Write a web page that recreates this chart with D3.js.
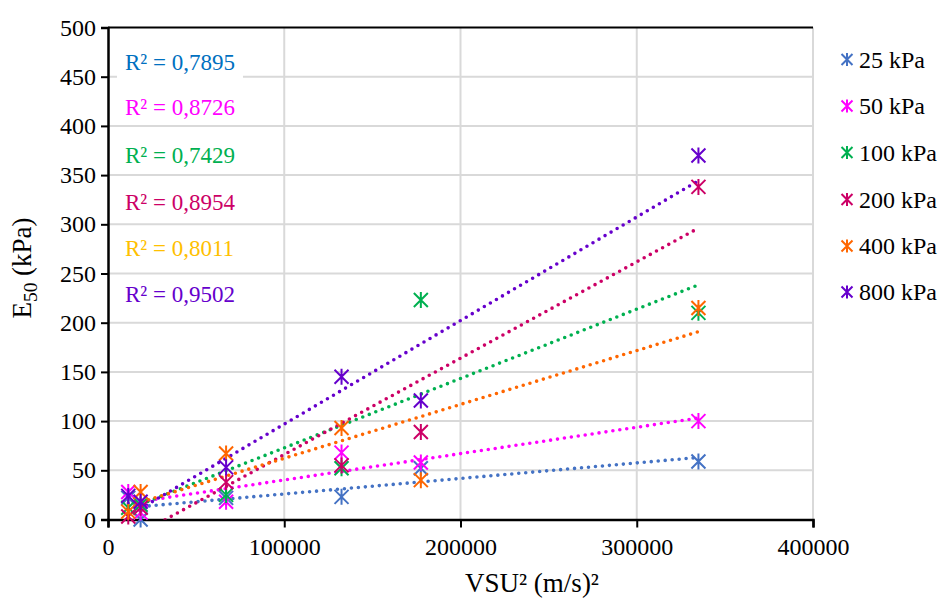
<!DOCTYPE html>
<html>
<head>
<meta charset="utf-8">
<script src="https://cdn.jsdelivr.net/npm/d3@7/dist/d3.min.js"></script>
<style>
  html, body { margin: 0; padding: 0; background: #fff; }
</style>
</head>
<body>
<svg id="chart" width="940" height="602"></svg>
<script>
// Squared shear-wave velocity (m/s)² for each test
const vsu2 = [11500, 18500, 67000, 132500, 177500, 335000];

// E50 (kPa) per confining pressure
const e50_25 = [22, 0, 22, 23, 52, 59];
const e50_50 = [28, 7, 18, 68, 58, 100];
const e50_100 = [12, 15, 25, 52, 223, 210];
const e50_200 = [3, 12, 38, 55, 89, 338];
const e50_400 = [8, 28, 67, 93, 40, 215];
const e50_800 = [24, 18, 53, 145, 121, 370];

const seriesNames = ["25 kPa", "50 kPa", "100 kPa", "200 kPa", "400 kPa", "800 kPa"];
const seriesColors = ["#4472C4", "#FF00FF", "#00B050", "#CC0066", "#FF6600", "#6600CC"];
const r2Labels = ["R² = 0,7895", "R² = 0,8726", "R² = 0,7429", "R² = 0,8954", "R² = 0,8011", "R² = 0,9502"];
const r2Colors = ["#0070C0", "#FF00FF", "#00B050", "#CC0066", "#FFC000", "#6600CC"];

const xTicks = [0, 100000, 200000, 300000, 400000];
const yTicks = [0, 50, 100, 150, 200, 250, 300, 350, 400, 450, 500];

const seriesValues = [e50_25, e50_50, e50_100, e50_200, e50_400, e50_800];

const FONT = '"Liberation Serif", "Times New Roman", serif';
const FS = 24;      // ticks and legend
const FS_R2 = 23;   // regression labels
const FS_T = 27;    // axis titles

const svg = d3.select("#chart");
const plotL = 108, plotR = 813, plotT = 27.5, plotB = 519.5;

const x = d3.scaleLinear().domain([0, 400000]).range([plotL, plotR]);
const y = d3.scaleLinear().domain([0, 500]).range([plotB, plotT]);

// clip for trendlines
svg.append("defs").append("clipPath").attr("id", "plotClip")
  .append("rect").attr("x", plotL).attr("y", plotT).attr("width", plotR - plotL).attr("height", plotB - plotT);

// gridlines
const grid = svg.append("g");
grid.selectAll("line.h").data(yTicks.filter(d => d > 0 && d < 500)).join("line")
  .attr("x1", plotL).attr("x2", plotR)
  .attr("y1", d => y(d)).attr("y2", d => y(d))
  .attr("stroke", "#d9d9d9").attr("stroke-width", 2);
grid.selectAll("line.v").data(xTicks.filter(d => d > 0)).join("line")
  .attr("x1", d => x(d)).attr("x2", d => x(d))
  .attr("y1", plotT).attr("y2", plotB)
  .attr("stroke", "#d9d9d9").attr("stroke-width", 2);
// top border of plot
svg.append("line").attr("x1", plotL).attr("x2", plotR).attr("y1", plotT).attr("y2", plotT)
  .attr("stroke", "#000").attr("stroke-width", 2);

// axes
const yAxis = d3.axisLeft(y).tickValues(yTicks).tickSize(7).tickPadding(5).tickFormat(d3.format("d"));
const gy = svg.append("g").attr("transform", `translate(${plotL},0)`).call(yAxis);
const xAxis = d3.axisBottom(x).tickValues(xTicks).tickSize(8).tickPadding(10).tickFormat(d3.format("d"));
const gx = svg.append("g").attr("transform", `translate(0,${plotB})`).call(xAxis);
[gx, gy].forEach(g => {
  g.select(".domain").attr("stroke", "#000").attr("stroke-width", 2.5);
  g.selectAll(".tick line").attr("stroke", "#000").attr("stroke-width", 2);
  g.selectAll(".tick text").style("font-family", FONT).style("font-size", FS + "px").attr("fill", "#000");
});

// least-squares linear trend for each series
function linearFit(xs, ys) {
  const mx = d3.mean(xs), my = d3.mean(ys);
  const sxy = d3.sum(xs, (v, i) => (v - mx) * (ys[i] - my));
  const sxx = d3.sum(xs, v => (v - mx) * (v - mx));
  const slope = sxy / sxx;
  return { slope, intercept: my - slope * mx };
}

const trendG = svg.append("g").attr("clip-path", "url(#plotClip)");
seriesValues.forEach((vals, i) => {
  const fit = linearFit(vsu2, vals);
  const x0 = d3.min(vsu2), x1 = d3.max(vsu2);
  trendG.append("line")
    .attr("x1", x(x0)).attr("y1", y(fit.intercept + fit.slope * x0))
    .attr("x2", x(x1)).attr("y2", y(fit.intercept + fit.slope * x1))
    .attr("stroke", seriesColors[i]).attr("stroke-width", 3.6)
    .attr("stroke-linecap", "round").attr("stroke-dasharray", "0 7");
});

// star markers
const R = 7;
const starPath = `M${-R},${-R}L${R},${R}M${-R},${R}L${R},${-R}M0,${-R - 1}L0,${R + 1}`;
seriesValues.forEach((vals, i) => {
  svg.append("g").selectAll("path").data(vals).join("path")
    .attr("d", starPath)
    .attr("transform", (d, j) => `translate(${x(vsu2[j])},${y(d)})`)
    .attr("fill", "none").attr("stroke", seriesColors[i]).attr("stroke-width", 2);
});

// R² labels
const r2Y = [62, 107, 155, 201.5, 248, 293.5];
r2Labels.forEach((t, i) => {
  const g = svg.append("g");
  const txt = g.append("text").attr("x", 125).attr("y", r2Y[i] + 8)
    .style("font-family", FONT).style("font-size", FS_R2 + "px").attr("fill", r2Colors[i]).text(t);
  const bb = txt.node().getBBox();
  g.insert("rect", "text").attr("x", bb.x - 8).attr("y", bb.y - 3)
    .attr("width", bb.width + 16).attr("height", bb.height + 6).attr("fill", "#fff");
});

// legend
const legY = [59.5, 106, 152.5, 199.5, 246, 292];
const rl = 5.5;
const legStar = `M${-rl},${-rl}L${rl},${rl}M${-rl},${rl}L${rl},${-rl}M0,${-rl - 1}L0,${rl + 1}`;
seriesNames.forEach((n, i) => {
  svg.append("path").attr("d", legStar).attr("transform", `translate(${847},${legY[i]})`)
    .attr("fill", "none").attr("stroke", seriesColors[i]).attr("stroke-width", 2);
  svg.append("text").attr("x", 859).attr("y", legY[i] + 8)
    .style("font-family", FONT).style("font-size", FS + "px").attr("fill", "#000").text(n);
});

// axis titles
const yTitle = svg.append("text").attr("transform", "translate(31,268) rotate(-90)")
  .attr("text-anchor", "middle").style("font-family", FONT).style("font-size", FS_T + "px").attr("fill", "#000");
yTitle.append("tspan").text("E");
yTitle.append("tspan").style("font-size", (FS_T * 0.72) + "px").attr("dy", 6).text("50");
yTitle.append("tspan").attr("dy", -6).text(" (kPa)");

svg.append("text").attr("x", 532).attr("y", 592).attr("text-anchor", "middle")
  .style("font-family", FONT).style("font-size", FS_T + "px").attr("fill", "#000").text("VSU² (m/s)²");
</script>
</body>
</html>
